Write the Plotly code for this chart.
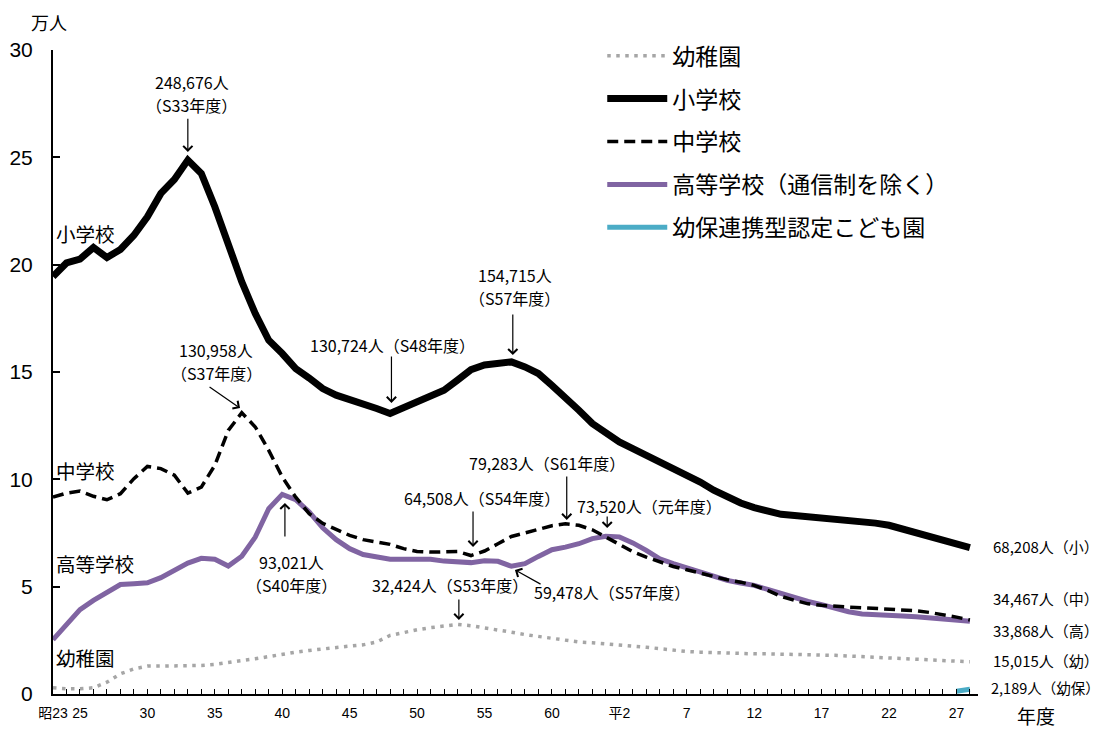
import plotly.graph_objects as go

# ---------------- data (万人) ----------------
years = list(range(1948, 2017))

kinder = [0.29, 0.24, 0.24, 0.29, 0.55, 0.94, 1.17, 1.30, 1.30, 1.30,
          1.31, 1.33, 1.38, 1.45, 1.56, 1.64, 1.75, 1.84, 1.95, 2.03,
          2.11, 2.18, 2.23, 2.29, 2.42, 2.73, 2.88, 2.99, 3.09, 3.18,
          3.24, 3.18, 3.09, 2.99, 2.88, 2.77, 2.68, 2.57, 2.49, 2.42,
          2.39, 2.34, 2.31, 2.26, 2.18, 2.11, 2.03, 1.98, 1.95, 1.92,
          1.90, 1.88, 1.87, 1.87, 1.86, 1.85, 1.84, 1.82, 1.80, 1.77,
          1.74, 1.71, 1.68, 1.66, 1.64, 1.61, 1.58, 1.55, 1.50]

elem = [19.45, 20.08, 20.26, 20.80, 20.33, 20.71, 21.37, 22.23, 23.32, 23.97,
        24.87, 24.25, 22.70, 20.90, 19.20, 17.72, 16.48, 15.86, 15.16, 14.72,
        14.23, 13.92, 13.73, 13.50, 13.30, 13.07, 13.34, 13.65, 13.88, 14.15,
        14.62, 15.11, 15.33, 15.44, 15.47, 15.24, 14.93, 14.38, 13.84, 13.22,
        12.60, 12.13, 11.74, 11.43, 11.12, 10.85, 10.57, 10.23, 9.87, 9.49,
        9.15, 8.90, 8.68, 8.51, 8.37, 8.32, 8.27, 8.21, 8.17, 8.12,
        8.04, 7.96, 7.86, 7.70, 7.54, 7.36, 7.19, 7.00, 6.82]

junior = [9.17, 9.36, 9.45, 9.21, 9.05, 9.33, 10.03, 10.60, 10.50, 10.19,
          9.36, 9.64, 10.65, 12.28, 13.10, 12.44, 11.35, 10.11, 9.17, 8.40,
          7.95, 7.65, 7.39, 7.19, 7.08, 6.97, 6.77, 6.64, 6.61, 6.64,
          6.64, 6.45, 6.66, 7.00, 7.34, 7.50, 7.65, 7.84, 7.93, 7.86,
          7.65, 7.31, 6.95, 6.63, 6.38, 6.15, 5.94, 5.79, 5.63, 5.49,
          5.32, 5.21, 5.06, 4.83, 4.55, 4.36, 4.20, 4.13, 4.08, 4.05,
          4.02, 3.99, 3.95, 3.92, 3.88, 3.80, 3.70, 3.58, 3.45]

high = [2.53, 3.24, 3.93, 4.36, 4.75, 5.10, 5.14, 5.18, 5.42, 5.76,
        6.10, 6.32, 6.28, 5.96, 6.42, 7.31, 8.63, 9.30, 9.05, 8.48,
        7.74, 7.19, 6.77, 6.50, 6.38, 6.28, 6.28, 6.28, 6.28, 6.19,
        6.13, 6.12, 6.21, 6.18, 5.95, 6.07, 6.41, 6.72, 6.84, 7.00,
        7.24, 7.35, 7.32, 7.04, 6.69, 6.30, 6.07, 5.88, 5.68, 5.48,
        5.29, 5.17, 5.06, 4.87, 4.67, 4.48, 4.31, 4.16, 3.99, 3.83,
        3.73, 3.68, 3.66, 3.63, 3.60, 3.56, 3.52, 3.47, 3.39]

nintei_years = [2015, 2016]
nintei = [0.13, 0.22]

tick_years = [1948, 1950, 1955, 1960, 1965, 1970, 1975, 1980, 1985,
              1990, 1995, 2000, 2005, 2010, 2015]
tick_text = ["昭23", "25", "30", "35", "40", "45", "50", "55", "60",
             "平2", "7", "12", "17", "22", "27"]

JP = "Noto Sans CJK JP"
NUM = "Liberation Sans, Noto Sans CJK JP"

fig = go.Figure()
fig.add_trace(go.Scatter(x=years, y=kinder, mode="lines", name="幼稚園",
                         line=dict(color="#A6A6A6", width=3.5, dash="3.5px,5.5px"),
                         legendgroup="k", legendrank=1))
fig.add_trace(go.Scatter(x=years, y=elem, mode="lines", name="小学校",
                         line=dict(color="black", width=7),
                         legendgroup="e", legendrank=2))
fig.add_trace(go.Scatter(x=years, y=high, mode="lines", name="高等学校（通信制を除く）",
                         line=dict(color="#8064A2", width=5),
                         legendgroup="h", legendrank=4))
fig.add_trace(go.Scatter(x=years, y=junior, mode="lines", name="中学校",
                         line=dict(color="black", width=3.5, dash="11px,6px"),
                         legendgroup="j", legendrank=3))
fig.add_trace(go.Scatter(x=nintei_years, y=nintei, mode="lines", name="幼保連携型認定こども園",
                         line=dict(color="#4BACC6", width=5),
                         legendgroup="n", legendrank=5))


def txt(x, y, s, size=16, xanchor="center", xref="x", yref="y"):
    return dict(x=x, y=y, text=s, showarrow=False, xref=xref, yref=yref,
                xanchor=xanchor, yanchor="middle",
                font=dict(family=JP, size=size, color="black"))


def arrow(x0, y0, x1, y1):
    return dict(x=x1, y=y1, ax=x0, ay=y0, xref="x", yref="y", axref="x", ayref="y",
                text="", showarrow=True, arrowhead=4, arrowsize=1.5, arrowwidth=1.2,
                arrowcolor="black", standoff=0)


i = lambda yr: years.index(yr)

ann = [
    # peak / trough callouts
    txt(1958.3, 28.51, "248,676人"), txt(1958.3, 27.44, "（S33年度）"),
    arrow(1958, elem[i(1958)] + 2.0, 1958, elem[i(1958)] + 0.38),
    txt(1960.1, 16.02, "130,958人"), txt(1960.1, 14.95, "（S37年度）"),
    arrow(1959.5, 14.35, 1961.87, junior[i(1962)] + 0.22),
    txt(1973.2, 16.26, "130,724人（S48年度）"),
    arrow(1973.1, 15.79, 1973.1, elem[i(1973)] + 0.49),
    txt(1982.26, 19.52, "154,715人"), txt(1982.26, 18.45, "（S57年度）"),
    arrow(1982.1, 17.75, 1982.1, elem[i(1982)] + 0.32),
    txt(1984.64, 10.76, "79,283人（S61年度）"),
    arrow(1986.1, 10.2, 1986.1, junior[i(1986)] + 0.18),
    txt(1979.82, 9.13, "64,508人（S54年度）"),
    arrow(1979.15, 8.57, 1979.15, junior[i(1979)] + 0.40),
    txt(1992.27, 8.76, "73,520人（元年度）"),
    arrow(1989.1, 8.34, 1989.1, high[i(1989)] + 0.38),
    txt(1977.44, 5.08, "32,424人（S53年度）"),
    arrow(1978.1, 4.47, 1978.1, kinder[i(1978)] + 0.21),
    txt(1989.46, 4.75, "59,478人（S57年度）"),
    arrow(1984.27, 5.08, 1982.26, high[i(1982)] - 0.17),
    txt(1965.72, 6.15, "93,021人"), txt(1965.72, 5.08, "（S40年度）"),
    arrow(1965.2, 7.27, 1965.2, high[i(1965)] - 0.40),
    # series labels
    txt(1948.1, 21.47, "小学校", size=19.5, xanchor="left"),
    txt(1948.1, 10.43, "中学校", size=19.5, xanchor="left"),
    txt(1948.1, 6.10, "高等学校", size=19.5, xanchor="left"),
    txt(1948.1, 1.72, "幼稚園", size=19.5, xanchor="left"),
    # right-end labels
    txt(1.014, 6.85, "68,208人（小）", size=15, xanchor="left", xref="paper"),
    txt(1.014, 4.47, "34,467人（中）", size=15, xanchor="left", xref="paper"),
    txt(1.014, 2.98, "33,868人（高）", size=15, xanchor="left", xref="paper"),
    txt(1.014, 1.58, "15,015人（幼）", size=15, xanchor="left", xref="paper"),
    txt(1.0115, 0.28, "2,189人（幼保）", size=14.5, xanchor="left", xref="paper"),
    # axis titles
    txt(1.0627, -0.034, "年度", size=19, xref="paper", yref="paper"),
    txt(-0.004, 1.0435, "万人", size=18, xref="paper", yref="paper"),
]

fig.update_layout(
    width=1101, height=729,
    margin=dict(l=53, r=123, t=50, b=35, autoexpand=False),
    plot_bgcolor="white", paper_bgcolor="white",
    showlegend=True,
    legend=dict(x=0.547, y=0.953, xref="container", yref="container",
                xanchor="left", yanchor="top",
                font=dict(family=JP, size=23, color="black"),
                itemwidth=60, traceorder="grouped", tracegroupgap=10,
                bgcolor="rgba(0,0,0,0)"),
    xaxis=dict(range=[1948, 2016.6], tickmode="array", tickvals=tick_years,
               ticktext=tick_text, ticks="inside", ticklen=5, tickwidth=1,
               tickcolor="black", showline=True, linecolor="black", linewidth=2,
               showgrid=False, zeroline=False, ticklabelstandoff=5, automargin=False,
               tickfont=dict(family=NUM, size=14, color="black"),
               minor=dict(dtick=1, tick0=1948, ticks="inside", ticklen=5,
                          tickwidth=1, tickcolor="black", showgrid=False)),
    yaxis=dict(range=[0, 30], dtick=5, ticks="inside", ticklen=7, tickwidth=2,
               tickcolor="black", showline=True, linecolor="black", linewidth=2,
               showgrid=False, zeroline=False, ticklabelstandoff=14, automargin=False,
               tickfont=dict(family="Liberation Sans", size=21, color="black")),
    annotations=ann,
)

fig.write_html("out.html", config={"displayModeBar": False},
               post_script="document.body.style.margin='0px';")
